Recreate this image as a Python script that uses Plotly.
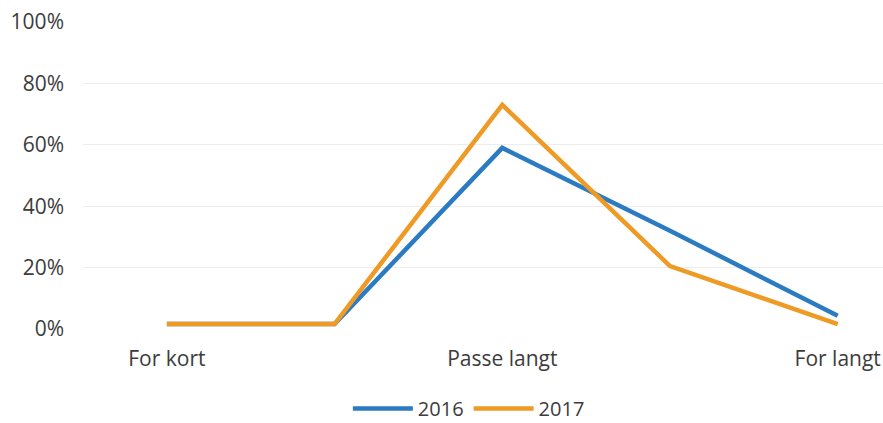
import plotly.graph_objects as go

categories = ["For kort", "", "Passe langt", "", "For langt"]
tick_labels = ["For kort", "Passe langt", "For langt"]
y_ticks = [0, 20, 40, 60, 80, 100]
series_2016 = [1.6, 1.6, 59, 32, 4.3]
series_2017 = [1.6, 1.6, 73, 20.5, 1.6]

x = list(range(len(categories)))
fig = go.Figure()
fig.add_trace(go.Scatter(x=x, y=series_2016, mode="lines", name="2016",
                         line=dict(color="#2B7BC2", width=4.5)))
fig.add_trace(go.Scatter(x=x, y=series_2017, mode="lines", name="2017",
                         line=dict(color="#EE9A24", width=4.5)))

font = dict(family="Open Sans", size=21, color="#3C3C3C")
fig.update_layout(
    width=883, height=423,
    margin=dict(l=83, r=0, t=22, b=94),
    paper_bgcolor="white", plot_bgcolor="white",
    font=font,
    showlegend=True,
    legend=dict(orientation="h", xref="container", yref="container",
                x=0.531, xanchor="center", y=0.034, yanchor="middle",
                font=dict(family="Open Sans", size=20, color="#3C3C3C"),
                itemwidth=60, tracegroupgap=0, borderwidth=0),
    xaxis=dict(range=[-0.5, 4.27], tickmode="array",
               tickvals=[0, 2, 4], ticktext=tick_labels,
               showgrid=False, zeroline=False, showline=False, ticks="",
               ticklabelstandoff=15),
    yaxis=dict(range=[0, 100], tickvals=y_ticks,
               ticktext=[f"{v}%" for v in y_ticks],
               showgrid=True, gridcolor="#EDEDED", gridwidth=1,
               zeroline=False, showline=False, ticks="",
               ticklabelstandoff=18),
)
fig.write_html("out.html", config={"displayModeBar": False},
               post_script="document.body.style.margin='0';")
